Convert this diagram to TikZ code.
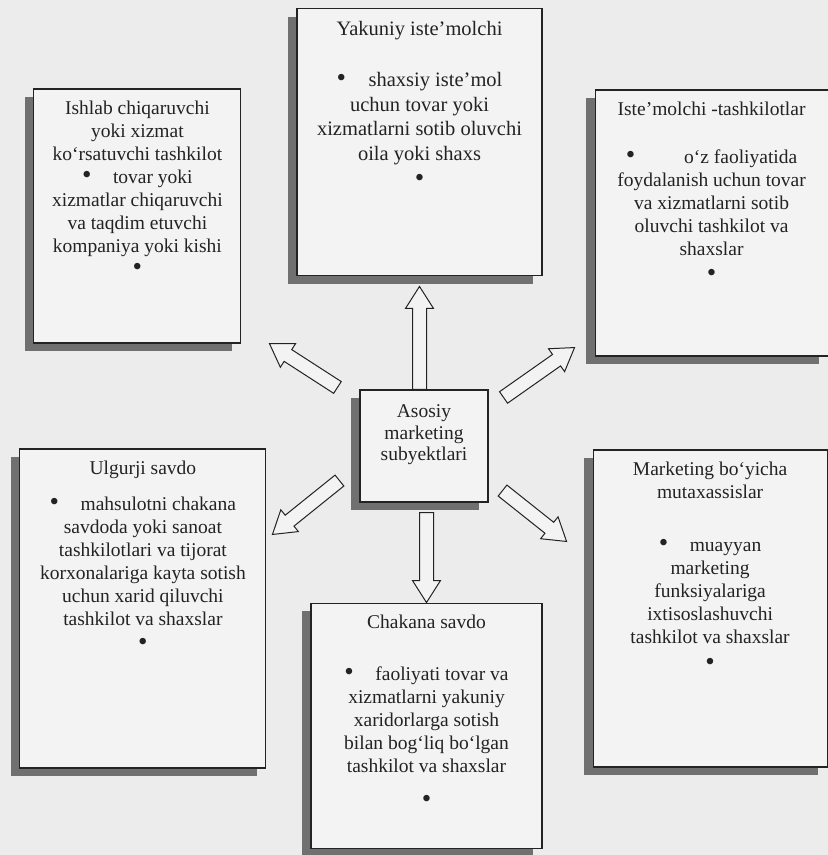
\documentclass[tikz,border=0pt]{standalone}
\usepackage{fontspec}
\setmainfont{Liberation Serif}
\usetikzlibrary{positioning,calc,shadows}

\definecolor{bgpaper}{RGB}{236,236,236}
\definecolor{boxpaper}{RGB}{243,243,243}
\definecolor{shadowgray}{RGB}{112,112,112}
\definecolor{inkgray}{RGB}{35,35,35}

\tikzset{
  subject/.style={rectangle, draw=inkgray, line width=1.1pt, fill=boxpaper, inner sep=0pt, text=inkgray,
    drop shadow={shadow xshift=-9pt, shadow yshift=-8pt, fill=shadowgray, opacity=1},
    font=\fontsize{19.5}{23}\selectfont},
  blockarrow/.style={draw=inkgray, line width=1pt, fill=boxpaper, line join=miter}
}

% text set at the top of a box: width, height, lines
\newcommand{\subjtext}[3]{\parbox[c][#2][t]{#1}{\centering\vspace*{12pt}#3}}
\newcommand{\subjdot}{\raisebox{-0.3pt}{\fontsize{27}{23}\selectfont\textbullet}}
\newcommand{\dotgap}{\subjdot\hspace{1.1em}}

% outlined block arrow from #1 to #2
\newcommand{\subjarrow}[2]{%
  \draw[blockarrow] let \p1=(#1), \p2=(#2), \p3=($(\p2)!22pt!(\p1)$) in
    ($(\p1)!7pt!-90:(\p2)$) -- ($(\p3)!7pt!-90:(\p2)$) -- ($(\p3)!14pt!-90:(\p2)$) -- (\p2)
    -- ($(\p3)!14pt!90:(\p2)$) -- ($(\p3)!7pt!90:(\p2)$) -- ($(\p1)!7pt!90:(\p2)$) -- cycle;}

\begin{document}
\begin{tikzpicture}[x=1pt, y=1pt]
    \path[use as bounding box, fill=bgpaper] (0,0) rectangle (828,-855);

    \node[subject] (asosiy) at (424,-446) {\subjtext{128pt}{112pt}{\fontsize{19.5}{21.5}\selectfont\vspace*{3pt}
        Asosiy\\ marketing\\ subyektlari}};

    \node[subject, above=113pt of asosiy, xshift=-4.5pt] (yakuniy) {\subjtext{245pt}{267pt}{\fontsize{20.5}{24.5}\selectfont
        Yakuniy iste'molchi\\[27pt]
        \dotgap shaxsiy iste'mol\\ uchun tovar yoki\\ xizmatlarni sotib oluvchi\\ oila yoki shaxs\\[2pt]
        \subjdot}};
    \node[subject, left=118pt of asosiy, yshift=230pt] (ishlab) {\subjtext{207pt}{254pt}{%
        Ishlab chiqaruvchi\\ yoki xizmat\\ ko‘rsatuvchi tashkilot\\
        \dotgap tovar yoki\\ xizmatlar chiqaruvchi\\ va taqdim etuvchi\\ kompaniya yoki kishi\\
        \subjdot}};
    \node[subject, right=106pt of asosiy, yshift=223pt] (istemol) {\subjtext{233pt}{266pt}{%
        Iste'molchi -tashkilotlar\\[25pt]
        \subjdot\hspace{2.5em}o‘z faoliyatida\\ foydalanish uchun tovar\\ va xizmatlarni sotib\\ oluvchi tashkilot va\\ shaxslar\\[3pt]
        \subjdot}};
    \node[subject, left=93pt of asosiy, yshift=-162.5pt] (ulgurji) {\subjtext{246pt}{319pt}{%
        Ulgurji savdo\\[13pt]
        \dotgap mahsulotni chakana\\ savdoda yoki sanoat\\ tashkilotlari va tijorat\\ korxonalariga kayta sotish\\ uchun xarid qiluvchi\\ tashkilot va shaxslar\\[2pt]
        \subjdot}};
    \node[subject, below=100pt of asosiy, xshift=2.5pt] (chakana) {\subjtext{231pt}{245pt}{%
        Chakana savdo\\[29pt]
        \dotgap faoliyati tovar va\\ xizmatlarni yakuniy\\ xaridorlarga sotish\\ bilan bog‘liq bo‘lgan\\ tashkilot va shaxslar\\[12pt]
        \subjdot}};
    \node[subject, right=104pt of asosiy, yshift=-162.5pt] (marketing) {\subjtext{234pt}{317pt}{%
        Marketing bo‘yicha\\ mutaxassislar\\[30pt]
        \dotgap muayyan\\ marketing\\ funksiyalariga\\ ixtisoslashuvchi\\ tashkilot va shaxslar\\[4pt]
        \subjdot}};

    \subjarrow{yakuniy.south |- asosiy.north}{$(yakuniy.south)+(0,-10pt)$}
    \subjarrow{$(chakana.north |- asosiy.south)+(0,-10pt)$}{chakana.north}
    \subjarrow{$(asosiy.north west)+(-22pt,2pt)$}{$(ishlab.south east)+(28pt,0pt)$}
    \subjarrow{$(asosiy.north east)+(15pt,-8pt)$}{$(istemol.south west)+(-20pt,9pt)$}
    \subjarrow{$(asosiy.south west)+(-20pt,22pt)$}{$(ulgurji.north east)+(6pt,-86pt)$}
    \subjarrow{$(asosiy.south east)+(14pt,12pt)$}{$(marketing.north west)+(-26pt,-92pt)$}
\end{tikzpicture}
\end{document}
